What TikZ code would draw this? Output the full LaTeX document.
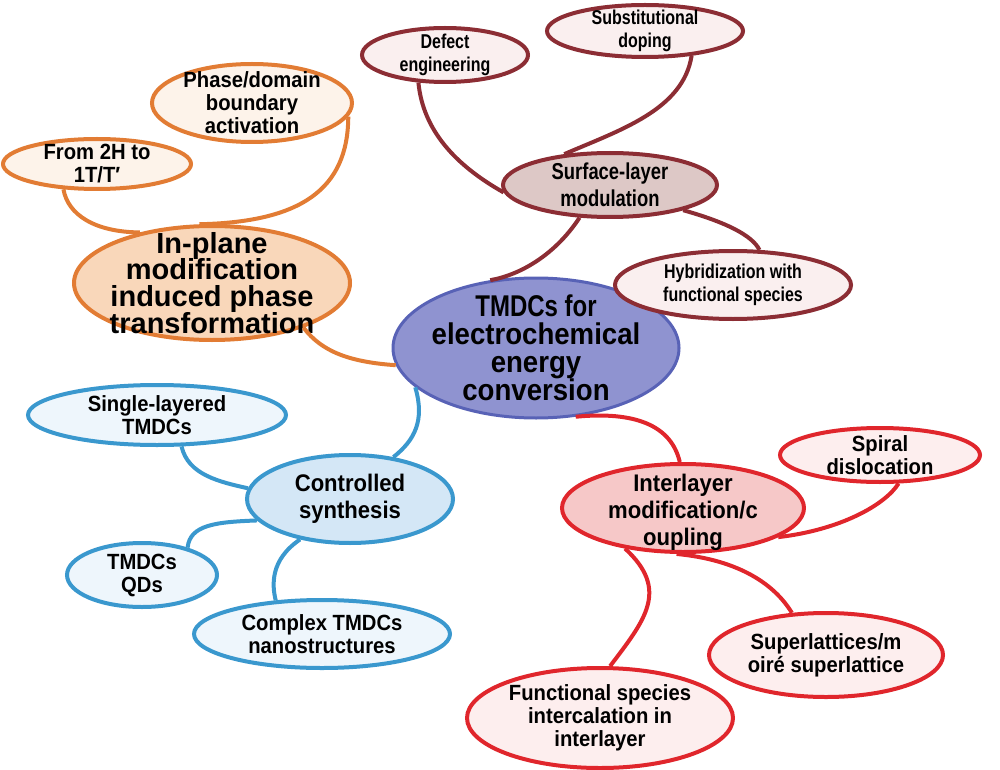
\documentclass[tikz,border=0pt]{standalone}
\usepackage{fontspec}
\setmainfont{Liberation Sans}[FakeStretch=0.92]
\newfontfamily\narrowsans{Liberation Sans}[FakeStretch=0.8]
\newfontfamily\widesans{Liberation Sans}
\usepackage{xcolor}
\usepackage{tikz}
\usetikzlibrary{shapes.geometric}

\definecolor{ctrfill}{RGB}{143,147,208}
\definecolor{ctrline}{RGB}{88,98,182}
\definecolor{orline}{RGB}{226,124,52}
\definecolor{orhub}{RGB}{249,215,186}
\definecolor{orleaf}{RGB}{253,243,234}
\definecolor{brline}{RGB}{140,45,52}
\definecolor{brhub}{RGB}{221,200,198}
\definecolor{brleaf}{RGB}{250,239,239}
\definecolor{blline}{RGB}{58,152,206}
\definecolor{blhub}{RGB}{212,231,246}
\definecolor{blleaf}{RGB}{238,246,252}
\definecolor{rdline}{RGB}{224,38,44}
\definecolor{rdhub}{RGB}{246,200,200}
\definecolor{rdleaf}{RGB}{253,238,238}

\begin{document}
\lineskiplimit=-20pt
\begin{tikzpicture}[
            x=0.5pt, y=-0.5pt,
            bub/.style={draw, ellipse, line width=2pt, align=center, inner xsep=-15pt, inner ysep=-12pt},
            leaf/.style={bub, font=\fontsize{11}{11.5}\selectfont\bfseries},
            bleaf/.style={bub, font=\narrowsans\fontsize{10}{11.5}\selectfont\bfseries},
            hub/.style={bub, font=\fontsize{12}{13.5}\selectfont\bfseries},
            lnk/.style={line width=2pt},
        ]
            \useasboundingbox (0,0) rectangle (1000,770);
            \node[bub, fill=ctrfill, draw=ctrline, line width=1.5pt, minimum width=143pt, minimum height=70pt, font=\fontsize{15}{14}\selectfont\bfseries] (tmdc) at (536,348) {{\narrowsans TMDCs for}\\electrochemical\\energy\\conversion};
            \node[hub, fill=orhub, draw=orline, minimum width=138pt, minimum height=57pt, font=\widesans\fontsize{14.5}{13.3}\selectfont\bfseries, text height=52pt, text depth=2pt] (inplane) at (212,283) {In-plane\\modification\\induced phase\\transformation};
            \node[leaf, fill=orleaf, draw=orline, minimum width=100pt, minimum height=39pt] (phase) at (252,103) {Phase/domain\\boundary\\activation};
            \node[leaf, fill=orleaf, draw=orline, minimum width=94pt, minimum height=25pt] (twoh) at (97,164) {From 2H to\\1T/T′};
            \node[hub, fill=brhub, draw=brline, minimum width=107pt, minimum height=32pt, font=\narrowsans\fontsize{11.5}{13.5}\selectfont\bfseries] (surface) at (610,185) {Surface-layer\\modulation};
            \node[bleaf, fill=brleaf, draw=brline, minimum width=83pt, minimum height=27pt] (defect) at (445,55) {Defect\\engineering};
            \node[bleaf, fill=brleaf, draw=brline, minimum width=98pt, minimum height=26pt] (subst) at (645,31) {Substitutional\\doping};
            \node[bleaf, fill=brleaf, draw=brline, minimum width=118pt, minimum height=34pt] (hybrid) at (733,285) {Hybridization with\\functional species};
            \node[hub, fill=blhub, draw=blline, minimum width=103pt, minimum height=44pt] (synth) at (350,499) {Controlled\\synthesis};
            \node[leaf, fill=blleaf, draw=blline, minimum width=129pt, minimum height=30pt] (single) at (157,415) {Single-layered\\TMDCs};
            \node[leaf, fill=blleaf, draw=blline, minimum width=75pt, minimum height=32pt] (qds) at (142,575) {TMDCs\\QDs};
            \node[leaf, fill=blleaf, draw=blline, minimum width=128pt, minimum height=34pt] (complex) at (322,634) {Complex TMDCs\\nanostructures};
            \node[hub, fill=rdhub, draw=rdline, minimum width=121pt, minimum height=44pt, text height=39pt, text depth=2pt] (inter) at (683,508) {Interlayer\\modification/c\\oupling};
            \node[leaf, fill=rdleaf, draw=rdline, minimum width=100pt, minimum height=27pt] (spiral) at (880,455) {Spiral\\dislocation};
            \node[leaf, fill=rdleaf, draw=rdline, minimum width=117pt, minimum height=42pt] (superl) at (826,655) {Superlattices/m\\oiré superlattice};
            \node[leaf, fill=rdleaf, draw=rdline, minimum width=133pt, minimum height=50pt] (funct) at (600,718) {Functional species\\intercalation in\\interlayer};
            \draw[lnk, orline] (inplane.-26) .. controls (322,352) and (350,362) .. (tmdc.-173);
            \draw[lnk, orline] (twoh.-143) .. controls (68,215) and (95,232) .. (inplane.145);
            \draw[lnk, orline] (phase.-8) .. controls (348,190) and (300,222) .. (inplane.102);
            \draw[lnk, brline] (defect.-134) .. controls (423,130) and (455,165) .. (surface.-176);
            \draw[lnk, brline] (subst.-28) .. controls (683,110) and (620,130) .. (surface.146);
            \draw[lnk, brline] (surface.-133) .. controls (555,255) and (520,275) .. (tmdc.124);
            \draw[lnk, brline] (surface.-19) .. controls (725,222) and (752,235) .. (hybrid.53);
            \draw[lnk, blline] (tmdc.-162) .. controls (425,420) and (415,440) .. (synth.44);
            \draw[lnk, blline] (single.-52) .. controls (188,475) and (220,482) .. (synth.174);
            \draw[lnk, blline] (qds.31) .. controls (190,525) and (215,522) .. (synth.-167);
            \draw[lnk, blline] (synth.-141) .. controls (270,560) and (272,585) .. (complex.144);
            \draw[lnk, rdline] (tmdc.-60) .. controls (625,412) and (670,420) .. (inter.94);
            \draw[lnk, rdline] (inter.-17) .. controls (840,530) and (885,505) .. (spiral.-57);
            \draw[lnk, rdline] (inter.-145) .. controls (670,590) and (645,620) .. (funct.79);
            \draw[lnk, rdline] (inter.-98) .. controls (740,560) and (775,585) .. (superl.129);
        \end{tikzpicture}
\end{document}
